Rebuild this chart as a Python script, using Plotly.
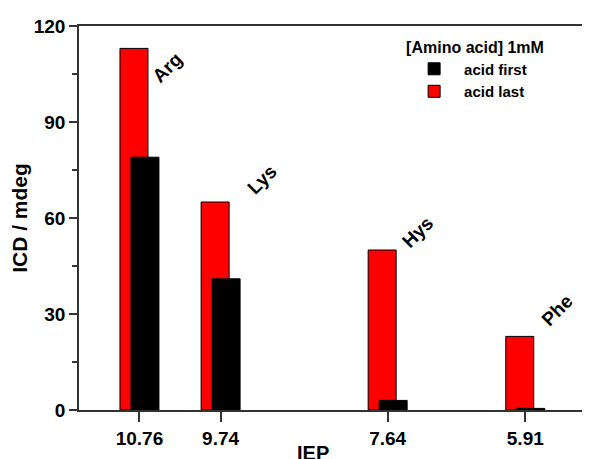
import plotly.graph_objects as go

# ---- data ----
amino_acids = ["Arg", "Lys", "Hys", "Phe"]
iep = [10.76, 9.74, 7.64, 5.91]
iep_labels = ["10.76", "9.74", "7.64", "5.91"]
acid_last = [113, 65, 50, 23]
acid_first = [79, 41, 3, 0.5]
y_ticks = [0, 30, 60, 90, 120]

FONT = "Liberation Sans, Arial, sans-serif"
BAR_W = 0.352

fig = go.Figure()
fig.add_trace(go.Bar(
    x=iep, y=acid_last, name="<b>acid last</b>",
    width=BAR_W, offset=-0.107,
    marker=dict(color="#ff0000", line=dict(color="#000000", width=1)),
))
fig.add_trace(go.Bar(
    x=iep, y=acid_first, name="<b>acid first</b>",
    width=BAR_W, offset=-0.245,
    marker=dict(color="#000000", line=dict(color="#000000", width=1)),
))

# rotated amino-acid labels near the bars
label_dx = [-0.35, -0.52, -0.37, -0.40]
label_dy = [-6, 7, 5.6, 8]
for name, xv, yv, dx, dy in zip(amino_acids, iep, acid_last, label_dx, label_dy):
    fig.add_annotation(x=xv + dx, y=yv + dy, xref="x", yref="y", text=f"<b>{name}</b>",
                       showarrow=False, textangle=-45,
                       font=dict(family=FONT, size=19, color="#000"),
                       xanchor="center", yanchor="middle")

# x-axis title
fig.add_annotation(x=0.461, y=-0.078, xref="paper", yref="paper", text="<b>IEP</b>",
                   showarrow=False, xanchor="center", yanchor="top",
                   font=dict(family=FONT, size=20, color="#000"))

# the page body has an 8px margin: size the figure so it fits the 590x459 window
fig.update_layout(
    width=582, height=451,
    margin=dict(l=71, r=3, t=18, b=49),
    paper_bgcolor="white", plot_bgcolor="white",
    barmode="overlay",
    font=dict(family=FONT, color="#000"),
    legend=dict(
        title=dict(text="<b>[Amino acid] 1mM</b>", font=dict(family=FONT, size=16)),
        x=0.64, y=0.985, xanchor="left", yanchor="top",
        traceorder="reversed", bgcolor="rgba(0,0,0,0)",
        font=dict(family=FONT, size=15), itemwidth=50,
        tracegroupgap=0,
    ),
    xaxis=dict(
        range=[11.52, 5.134], tickvals=iep, ticktext=[f"<b>{t}</b>" for t in iep_labels],
        ticks="outside", ticklen=10, tickwidth=1.5, tickcolor="#333",
        showline=True, linecolor="#333", linewidth=1.5, mirror=True,
        showgrid=False, zeroline=False,
        tickfont=dict(family=FONT, size=19, color="#000"),
    ),
    yaxis=dict(
        range=[0, 120], tickvals=y_ticks, ticktext=[f"<b>{t}</b>" for t in y_ticks],
        ticks="outside", ticklen=8, tickwidth=1.5, tickcolor="#333",
        minor=dict(dtick=15, ticks="outside", ticklen=5, tickwidth=1.5, tickcolor="#333"),
        showline=True, linecolor="#333", linewidth=1.5,
        showgrid=False, zeroline=False,
        tickfont=dict(family=FONT, size=19, color="#000"),
        title=dict(text="<b>ICD / mdeg</b>", font=dict(family=FONT, size=21, color="#000"),
                   standoff=4),
    ),
)

fig.write_html("out.html")
